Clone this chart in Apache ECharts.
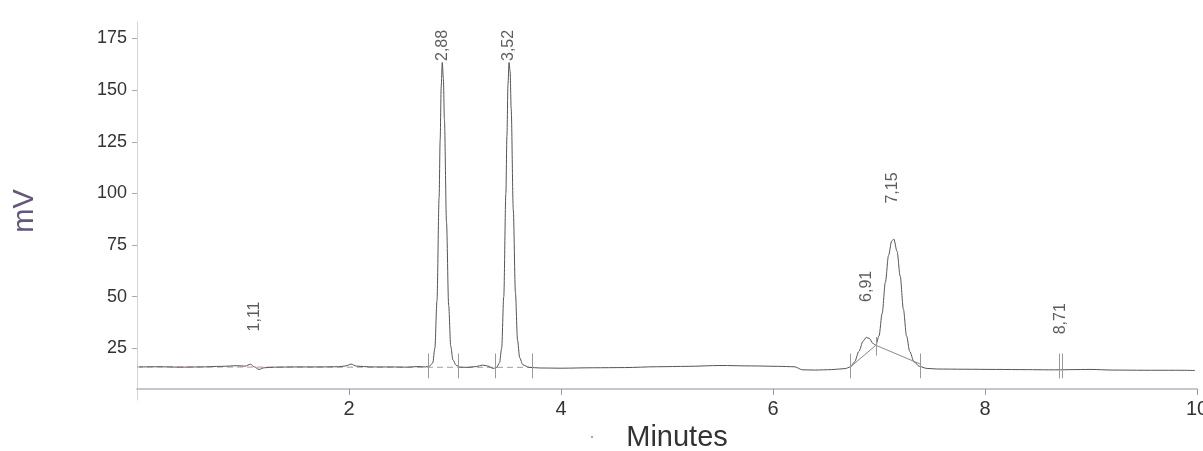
<!DOCTYPE html>
<html>
<head>
<meta charset="utf-8">
<script src="https://cdn.jsdelivr.net/npm/echarts@6/dist/echarts.min.js"></script>
<style>
  html, body { margin: 0; padding: 0; background: #fff; }
  #chrom { width: 1203px; height: 451px; }
</style>
</head>
<body>
<div id="chrom"></div>
<script>
// retention time (min) and detector signal (mV)
var times = [
    0.02, 0.2, 0.4, 0.6, 0.8, 0.95, 1.02, 1.07, 1.11, 1.15, 1.2, 1.3, 1.5, 1.7, 1.9, 1.97, 2.02, 2.07, 2.2, 2.4,
    2.55, 2.65, 2.72, 2.76, 2.79, 2.81, 2.83, 2.85, 2.86, 2.87, 2.88, 2.89, 2.90, 2.92, 2.94, 2.96, 2.98, 3.01, 3.05, 3.12,
    3.2, 3.26, 3.31, 3.36, 3.39, 3.42, 3.44, 3.46, 3.48, 3.49, 3.50, 3.51, 3.52, 3.53, 3.55, 3.57, 3.59, 3.61, 3.64, 3.70,
    3.8, 4.0, 4.3, 4.6, 4.9, 5.2, 5.5, 5.8, 6.05, 6.2, 6.28, 6.4, 6.55, 6.68, 6.73, 6.77, 6.81, 6.85, 6.88, 6.91,
    6.94, 6.97, 7.0, 7.03, 7.06, 7.09, 7.12, 7.14, 7.17, 7.2, 7.23, 7.26, 7.29, 7.33, 7.38, 7.45, 7.55, 7.8, 8.1, 8.4,
    8.6, 8.71, 8.8, 9.0, 9.2, 9.5, 9.8, 9.98
];
var signal = [
    16.0, 16.1, 15.9, 16.0, 16.3, 16.6, 16.4, 17.3, 16.0, 14.8, 15.6, 15.9, 16.0, 16.0, 16.1, 16.5, 17.4, 16.4, 16.0, 16.0,
    15.9, 16.2, 16.0, 16.4, 18, 25, 48, 98, 126, 152, 163.4, 156, 136, 86, 46, 26, 19.5, 16.8, 15.9, 15.8,
    16.2, 16.9, 16.4, 15.3, 15.6, 18, 25, 50, 100, 128, 153, 163.4, 159, 141, 92, 52, 29, 20.5, 17, 15.8,
    15.5, 15.4, 15.6, 15.7, 16.1, 16.3, 16.7, 16.5, 16.3, 16.1, 14.6, 14.5, 14.7, 15.2, 16.0, 18.5, 23.5, 28.5, 30.3, 29.8,
    27.5, 26.5, 31, 42, 57, 70, 77, 77.9, 72, 60, 44, 31, 23.5, 18.5, 16.3, 15.3, 15.0, 14.9, 14.8, 14.7,
    14.6, 14.6, 14.7, 14.8, 14.5, 14.4, 14.4, 14.3
];

// peak annotations
var peakTimes = [1.11, 2.88, 3.51, 6.88, 7.13, 8.71];
var peakHeights = [16.0, 163.4, 163.4, 30.3, 77.9, 14.6];
var peakLabels = ['1,11', '2,88', '3,52', '6,91', '7,15', '8,71'];

// integration start/stop marks
var markTimes = [2.75, 3.03, 3.38, 3.73, 6.73, 7.39, 8.70, 8.73];
var valleyTime = 6.97;
var valleyHeight = 26.5;

// baselines drawn by the integrator
var baseTimes = [0, 3.73];
var baseValues = [16.0, 15.8];
var skimTimes = [6.73, 6.97, 7.39];
var skimValues = [16.0, 26.5, 17.4];

var yTicks = [25, 50, 75, 100, 125, 150, 175];
var xTicks = [2, 4, 6, 8, 10];

var trace = times.map(function (t, i) { return [t, signal[i]]; });
var baseline = baseTimes.map(function (t, i) { return [t, baseValues[i]]; });
var skim = skimTimes.map(function (t, i) { return [t, skimValues[i]]; });

var marks = markTimes.map(function (t) {
    return [{ coord: [t, 10.5] }, { coord: [t, 22.5] }];
});
marks.push([{ coord: [valleyTime, valleyHeight - 5] }, { coord: [valleyTime, valleyHeight + 4] }]);

var labelPoints = peakTimes.map(function (t, i) {
    return {
        value: [t, peakHeights[i]],
        label: { distance: peakHeights[i] > 150 ? 1 : 35, formatter: peakLabels[i] }
    };
});

var chart = echarts.init(document.getElementById('chrom'));
chart.setOption({
    backgroundColor: '#fff',
    animation: false,
    grid: { left: 137, right: 6, top: 22, bottom: 51, outerBoundsMode: 'none', containLabel: false },
    xAxis: {
        type: 'value',
        min: 0,
        max: 10,
        offset: -11,
        name: 'Minutes',
        nameLocation: 'middle',
        nameGap: 34,
        nameTextStyle: { fontFamily: 'Liberation Sans', fontSize: 29, color: '#333', padding: [0, 0, 0, 20] },
        axisLine: { show: true, lineStyle: { color: '#c6c6d2', width: 2 } },
        axisTick: { show: true, length: 6, customValues: xTicks, lineStyle: { color: '#999' } },
        axisLabel: { customValues: xTicks, margin: 10, fontFamily: 'Liberation Sans', fontSize: 20, color: '#333' },
        splitLine: { show: false }
    },
    yAxis: {
        type: 'value',
        min: 0,
        max: 183,
        name: 'mV',
        nameLocation: 'middle',
        nameGap: 98,
        nameTextStyle: { fontFamily: 'Liberation Sans', fontSize: 29, color: '#64567c' },
        axisLine: { show: true, lineStyle: { color: '#d2d2dc', width: 1 } },
        axisTick: { show: true, length: 5, customValues: yTicks, lineStyle: { color: '#aaa' } },
        axisLabel: { customValues: yTicks, margin: 10, fontFamily: 'Liberation Sans', fontSize: 18, color: '#333' },
        splitLine: { show: false }
    },
    graphic: [{
        type: 'text', left: 589, top: 428,
        style: { text: '·', font: '18px Liberation Sans', fill: '#999' }
    }],
    series: [{
        type: 'line',
        data: baseline,
        symbol: 'none',
        silent: true,
        lineStyle: { color: '#c49090', width: 1, type: [6, 4] }
    }, {
        type: 'line',
        data: trace,
        symbol: 'none',
        smooth: 0.3,
        smoothMonotone: 'x',
        lineStyle: { color: '#555', width: 1 },
        markLine: {
            silent: true,
            symbol: 'none',
            label: { show: false },
            lineStyle: { color: '#999', width: 1, type: 'solid' },
            data: marks
        }
    }, {
        type: 'line',
        data: skim,
        symbol: 'none',
        lineStyle: { color: '#888', width: 1 }
    }, {
        type: 'scatter',
        data: labelPoints,
        symbolSize: 1,
        itemStyle: { color: 'rgba(0,0,0,0)' },
        label: {
            show: true,
            position: 'top',
            rotate: 90,
            align: 'left',
            verticalAlign: 'middle',
            fontFamily: 'Liberation Sans',
            fontSize: 16,
            color: '#333'
        }
    }]
});
</script>
</body>
</html>
